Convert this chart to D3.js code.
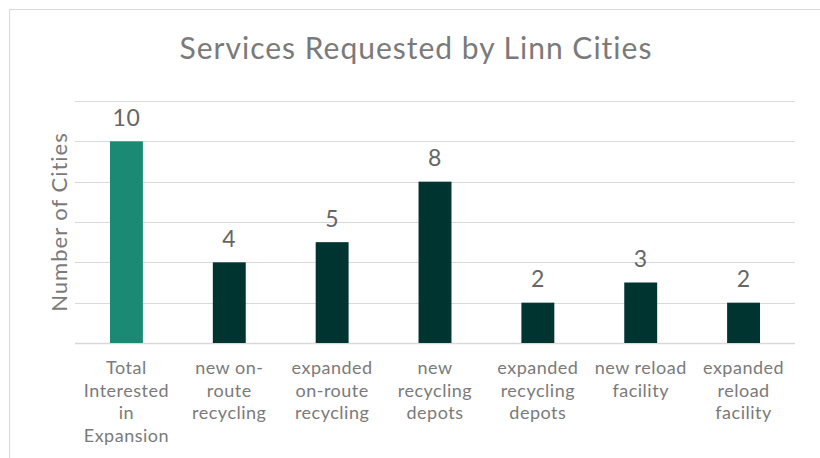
<!DOCTYPE html>
<html>
<head>
<meta charset="utf-8">
<script src="https://cdn.jsdelivr.net/npm/d3@7.9.0/dist/d3.min.js"></script>
<style>
  body { margin: 0; background: #fff; }
  svg { display: block; font-family: Lato, "Open Sans", sans-serif; }
</style>
</head>
<body>
<svg id="chart" width="820" height="458"></svg>
<script>
// chart data
const categories = [
  "Total|Interested|in|Expansion",
  "new on-|route|recycling",
  "expanded|on-route|recycling",
  "new|recycling|depots",
  "expanded|recycling|depots",
  "new reload|facility",
  "expanded|reload|facility"
];
const cities = [10, 4, 5, 8, 2, 3, 2];
const yTicks = [0, 2, 4, 6, 8, 10, 12];

const svg = d3.select('#chart');

// chart frame
svg.append('rect')
  .attr('x', 9.5).attr('y', 9.5)
  .attr('width', 830).attr('height', 470)
  .attr('fill', 'none')
  .attr('stroke', '#d9d9d9');

const plotLeft = 75, plotRight = 795, plotTop = 101, plotBottom = 343;

const x = d3.scaleBand()
  .domain(categories)
  .range([plotLeft, plotRight])
  .paddingInner(0.68)
  .paddingOuter(0.34);

const y = d3.scaleLinear()
  .domain([0, 12])
  .range([plotBottom, plotTop]);

// gridlines
svg.append('g')
  .selectAll('line')
  .data(yTicks)
  .join('line')
  .attr('x1', plotLeft).attr('x2', plotRight)
  .attr('y1', d => Math.round(y(d)) + 0.5)
  .attr('y2', d => Math.round(y(d)) + 0.5)
  .attr('stroke', '#d9d9d9')
  .attr('stroke-width', d => d === 0 ? 1.5 : 1);

// bars
svg.append('g')
  .selectAll('rect')
  .data(cities)
  .join('rect')
  .attr('x', (d, i) => x(categories[i]))
  .attr('width', x.bandwidth())
  .attr('y', d => y(d))
  .attr('height', d => y(0) - y(d))
  .attr('fill', (d, i) => i === 0 ? '#1a8a75' : '#003430');

// value labels
svg.append('g')
  .selectAll('text')
  .data(cities)
  .join('text')
  .attr('x', (d, i) => x(categories[i]) + x.bandwidth() / 2)
  .attr('y', d => y(d) - 15.5)
  .attr('text-anchor', 'middle')
  .attr('font-size', 23)
  .attr('letter-spacing', 0.5)
  .attr('fill', '#666666')
  .text(d => d);

// category labels
const cat = svg.append('g')
  .selectAll('text')
  .data(categories)
  .join('text')
  .attr('x', d => x(d) + x.bandwidth() / 2)
  .attr('y', 374)
  .attr('text-anchor', 'middle')
  .attr('font-size', 18)
  .attr('letter-spacing', 0.5)
  .attr('fill', '#7a7a7a');

cat.selectAll('tspan')
  .data(d => d.split('|'))
  .join('tspan')
  .attr('x', function () { return d3.select(this.parentNode).attr('x'); })
  .attr('dy', (d, i) => i === 0 ? 0 : 22.5)
  .text(d => d);

// axis title
svg.append('text')
  .attr('transform', `translate(67, ${(plotTop + plotBottom) / 2}) rotate(-90)`)
  .attr('text-anchor', 'middle')
  .attr('font-size', 22)
  .attr('letter-spacing', 1)
  .attr('fill', '#7a7a7a')
  .text('Number of Cities');

// chart title
svg.append('text')
  .attr('x', 416)
  .attr('y', 59)
  .attr('text-anchor', 'middle')
  .attr('font-size', 30)
  .attr('letter-spacing', 1)
  .attr('fill', '#7a7a7a')
  .text('Services Requested by Linn Cities');
</script>
</body>
</html>
